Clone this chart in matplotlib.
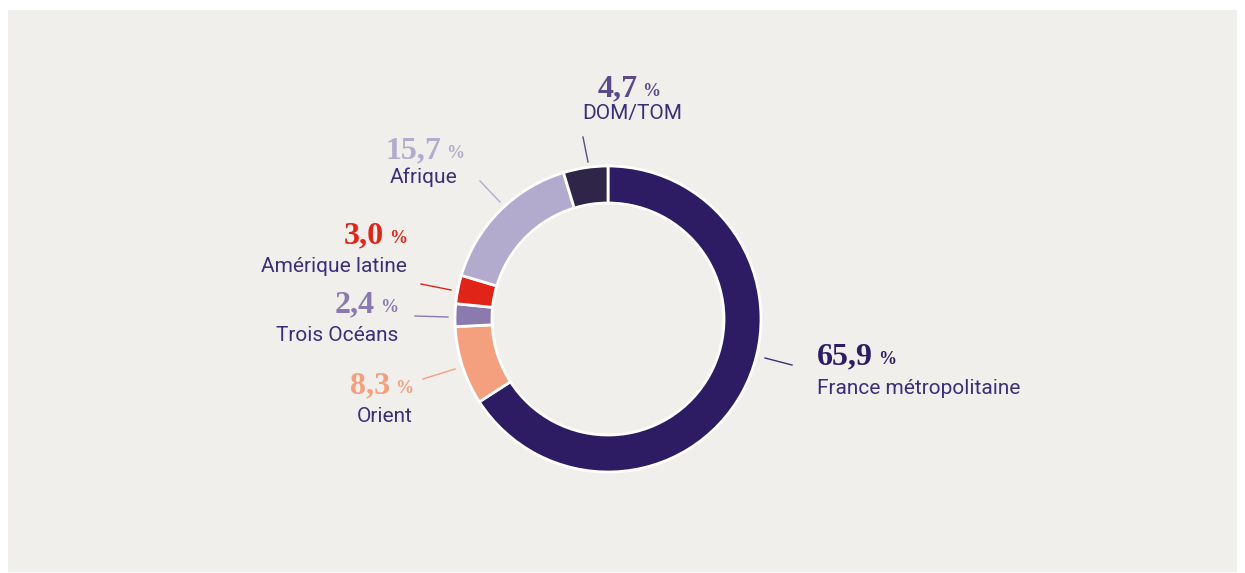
import matplotlib.pyplot as plt
from matplotlib.patches import Rectangle

# Répartition par zone géographique (%)
regions = ["France métropolitaine", "Orient", "Trois Océans",
           "Amérique latine", "Afrique", "DOM/TOM"]
shares = [65.9, 8.3, 2.4, 3.0, 15.7, 4.7]
slice_colors = ["#2d1c63", "#f4a07e", "#8a7aad", "#e02518", "#b3abcd", "#2f2548"]
value_colors = ["#2d1c63", "#f4a07e", "#8a7aad", "#e02518", "#b3abcd", "#5a4a8a"]

# positions des étiquettes en pixels (origine en bas) :
# (x valeur, y valeur, x nom, y nom, alignement)
label_pos = [(817, 209, 817, 179, "left"),
             (413, 180, 413, 151, "right"),
             (398, 261, 398, 232, "right"),
             (407, 330, 407, 301, "right"),
             (464, 415, 457, 390, "right"),
             (629, 477, 632, 454, "center")]
# segments de rappel
leaders = [((765, 215), (792, 208)), ((423, 194), (455, 204)), ((415, 257), (448, 256)),
           ((421, 289), (451, 283)), ((480, 392), (500, 371)), ((583, 436), (588, 411))]

W, H = 1245, 573
text_color = "#3b3078"

fig = plt.figure(figsize=(W / 100, H / 100), dpi=100, facecolor="white")
ax = fig.add_axes([0, 0, 1, 1])

ax.add_patch(Rectangle((8, 1), 1229, 562, facecolor="#f0efec", edgecolor="none", zorder=0))

ax.pie(shares, colors=slice_colors, startangle=90, counterclock=False,
       center=(608, 254), radius=153, frame=True,
       wedgeprops=dict(width=37, edgecolor="white", linewidth=2))
ax.set_xlim(0, W)
ax.set_ylim(0, H)
ax.set_aspect("equal")
ax.axis("off")

labels = []
for name, val, vc, (nx, ny, lx, ly, ha), (p0, p1) in zip(regions, shares, value_colors,
                                                         label_pos, leaders):
    num = f"{val:.1f}".replace(".", ",")
    t_num = ax.text(nx, ny, num, color=vc, fontsize=23, fontweight="bold",
                    family="Liberation Serif", ha="left", va="baseline")
    t_pct = ax.text(nx, ny, "%", color=vc, fontsize=13, fontweight="bold",
                    family="Liberation Serif", ha="left", va="baseline")
    ax.text(lx, ly, name, color=text_color, fontsize=15, family="Roboto",
            ha=ha, va="baseline")
    line_color = text_color if vc == "#2d1c63" else vc
    ax.plot([p0[0], p1[0]], [p0[1], p1[1]], color=line_color, linewidth=1, zorder=1)
    labels.append((t_num, t_pct, nx, ha))

# le groupe "valeur %" est placé selon l'alignement demandé
fig.canvas.draw()
r = fig.canvas.get_renderer()
gap = 5
for t_num, t_pct, x, ha in labels:
    wn = t_num.get_window_extent(r).width
    wp = t_pct.get_window_extent(r).width
    total = wn + gap + wp
    if ha == "left":
        x0 = x
    elif ha == "right":
        x0 = x - total
    else:
        x0 = x - total / 2
    t_num.set_x(x0)
    t_pct.set_x(x0 + wn + gap)

fig.savefig("out.png", dpi=100, facecolor="white")
